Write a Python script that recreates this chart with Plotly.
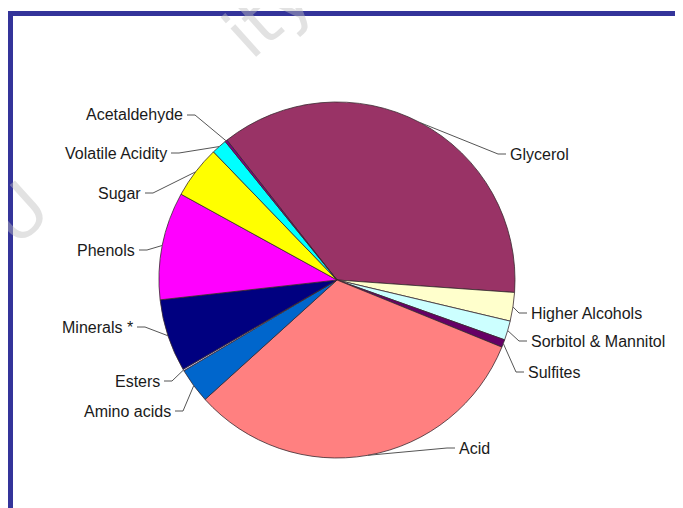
import math
import plotly.graph_objects as go

# ---- data (percent of wine components) ----
labels = ["Glycerol", "Higher Alcohols", "Sorbitol & Mannitol", "Sulfites", "Acid",
          "Amino acids", "Esters", "Minerals *", "Phenols", "Sugar",
          "Volatile Acidity", "Acetaldehyde"]
values = [36.8, 2.6, 1.75, 0.7, 32.2, 3.2, 0.15, 6.6, 9.8, 4.8, 1.4, 0.2]
colors = ["#993366", "#FFFFCC", "#CCFFFF", "#660066", "#FF8080", "#0066CC",
          "#CCCCFF", "#000080", "#FF00FF", "#FFFF00", "#00FFFF", "#800080"]

# ---- layout (pixels, in page coordinates; page body has an 8px margin) ----
OFF = 8
W, H = 683 - OFF, 508 - OFF
CX, CY, R = 337, 280, 178
START = 128.2  # math angle where the first slice begins (clockwise order)

# label anchor positions (page pixels) and side
label_pos = {
    "Glycerol": (508, 154, "left"),
    "Higher Alcohols": (529, 313, "left"),
    "Sorbitol & Mannitol": (529, 341, "left"),
    "Sulfites": (526, 372, "left"),
    "Acid": (457, 448, "left"),
    "Amino acids": (173, 411, "right"),
    "Esters": (162, 381, "right"),
    "Minerals *": (135, 327, "right"),
    "Phenols": (137, 250, "right"),
    "Sugar": (143, 193, "right"),
    "Volatile Acidity": (169, 153, "right"),
    "Acetaldehyde": (185, 115, "right"),
}


def px(x):
    return (x - OFF) / W


def py(y):
    return 1 - (y - OFF) / H


fig = go.Figure(go.Pie(
    labels=labels, values=values, sort=False, direction="clockwise",
    rotation=90 - START, textinfo="none", hoverinfo="label+percent",
    marker=dict(colors=colors, line=dict(color="#3a2a30", width=0.8)),
    domain=dict(x=[px(CX - R), px(CX + R)], y=[py(CY + R), py(CY - R)]),
    showlegend=False,
))

shapes = []
annotations = []
total = sum(values)
ang = START
for lab, v in zip(labels, values):
    sweep = 360 * v / total
    mid = ang - sweep / 2
    ang -= sweep
    ex = CX + R * math.cos(math.radians(mid))
    ey = CY - R * math.sin(math.radians(mid))
    tx, ty, side = label_pos[lab]
    if side == "left":
        elbow = tx - 10
        end = tx - 2
    else:
        elbow = tx + 10
        end = tx + 2
    shapes.append(dict(
        type="path", xref="paper", yref="paper",
        path=f"M {px(ex)},{py(ey)} L {px(elbow)},{py(ty)} L {px(end)},{py(ty)}",
        line=dict(color="#555555", width=1),
    ))
    annotations.append(dict(
        x=px(tx), y=py(ty), xref="paper", yref="paper", text=lab,
        showarrow=False, xanchor=side, yanchor="middle",
        font=dict(family="Liberation Sans, Arial, sans-serif", size=16, color="#1a1a1a"),
    ))

# faint watermark pieces
wm_font = dict(family="DejaVu Sans", size=70, color="rgba(190,190,190,0.45)")
annotations.append(dict(x=px(268), y=py(14), xref="paper", yref="paper", text="ity",
                        showarrow=False, textangle=-42, xanchor="center", yanchor="middle",
                        font=wm_font))
annotations.append(dict(x=px(18), y=py(214), xref="paper", yref="paper", text="U",
                        showarrow=False, textangle=-42, xanchor="center", yanchor="middle",
                        font=wm_font))

# blue frame
shapes.append(dict(type="rect", xref="paper", yref="paper",
                   x0=px(10.5), y0=-0.05, x1=1.05, y1=py(13.5),
                   line=dict(color="#34349a", width=5)))

fig.update_layout(
    width=W, height=H, margin=dict(l=0, r=0, t=0, b=0),
    paper_bgcolor="white", plot_bgcolor="white",
    shapes=shapes, annotations=annotations,
)

fig.write_html("out.html")
